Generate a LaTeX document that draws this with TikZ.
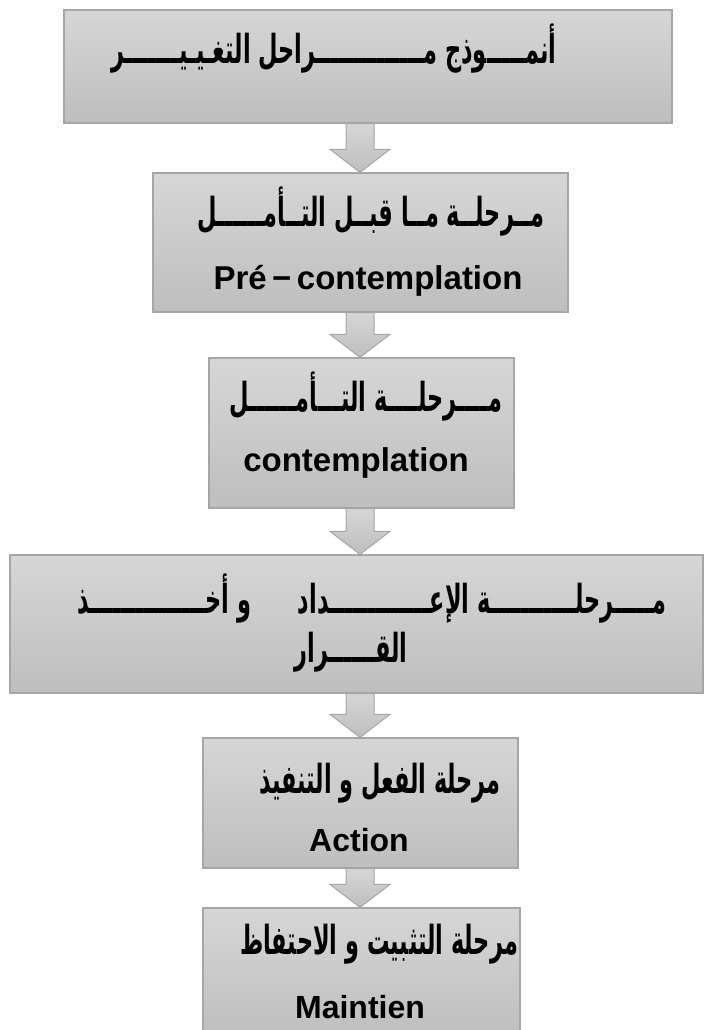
\documentclass[tikz,border=0pt]{standalone}
\usepackage{fontspec}
\setmainfont{Liberation Sans}
\newfontfamily\arabicfont[Script=Arabic]{DejaVu Sans}
\TeXXeTstate=1
\usetikzlibrary{calc}
\definecolor{edgegray}{HTML}{A6A6A6}
\definecolor{toplight}{HTML}{D6D6D6}
\definecolor{botdark}{HTML}{BEBEBE}
\newcommand{\arline}[1]{\scalebox{0.83}[1.48]{\beginR #1\endR}}
\tikzset{
  stagebox/.style={draw=edgegray, line width=1.3pt, top color=toplight, bottom color=botdark, inner sep=0pt},
  artext/.style={font=\arabicfont\bfseries\fontsize{27}{30}\selectfont, anchor=base, inner sep=0pt},
  latext/.style={font=\bfseries\fontsize{33}{36}\selectfont, anchor=base, inner sep=0pt},
  blockarrow/.style={draw=edgegray, line width=1pt, top color=toplight, bottom color=botdark}
}
\newcommand{\stagearrow}[3]{%
  \path[blockarrow] let \p1=(#1.south), \p2=(#2.north), \n1={\y2+23pt} in
    (#3pt-14pt,\y1) -- (#3pt+14pt,\y1) -- (#3pt+14pt,\n1) -- (#3pt+30pt,\n1) --
    (#3pt,\y2) -- (#3pt-30pt,\n1) -- (#3pt-14pt,\n1) -- cycle;}
\begin{document}
\begin{tikzpicture}[x=1pt,y=-1pt]
\useasboundingbox (0,0) rectangle (704,1030);
\fill[white] (0,0) rectangle (704,1030);
% boxes
\node[stagebox, minimum width=608pt, minimum height=113pt] (b1) at (368,66.5) {};
\node[stagebox, minimum width=415pt, minimum height=139pt] (b2) at (360.5,242.5) {};
\node[stagebox, minimum width=305pt, minimum height=150pt] (b3) at (361.5,433) {};
\node[stagebox, minimum width=693pt, minimum height=138pt] (b4) at (356.5,624) {};
\node[stagebox, minimum width=315pt, minimum height=130pt] (b5) at (360.5,803) {};
\node[stagebox, minimum width=317pt, minimum height=130pt] (b6) at (361.5,973) {};
% arrows
\stagearrow{b1}{b2}{360}
\stagearrow{b2}{b3}{360}
\stagearrow{b3}{b4}{360}
\stagearrow{b4}{b5}{360}
\stagearrow{b5}{b6}{360}
% texts
\node[artext] (t1) at (334,64) {\arline{أنمـــــوذج مــــــــــــــراحل التغـيـيـــــــر}};
\node[artext] (t2a) at (371,226) {\arline{مــرحلــة مــا قبــل التــأمــــــل}};
\node[latext] (t2b) at (368,289) {Pré\,−\,contemplation};
\node[artext] (t3a) at (366,411) {\arline{مــــرحلــــة التـــأمــــــل}};
\node[latext] (t3b) at (356,471) {contemplation};
\node[artext] (t4a) at (372,613) {\arline{مـــــرحلـــــــــــة الإعـــــــــــــداد\ \ \ \ \ \ و أخـــــــــــــــذ}};
\node[artext] (t4b) at (351,662) {\arline{القــــــرار}};
\node[artext] (t5a) at (380,793) {\arline{مرحلة الفعل و التنفيذ}};
\node[latext, font=\bfseries\fontsize{32}{36}\selectfont] (t5b) at (359,851) {Action};
\node[artext] (t6a) at (379,954) {\arline{مرحلة التثبيت و الاحتفاظ}};
\node[latext, font=\bfseries\fontsize{32}{36}\selectfont] (t6b) at (360,1018) {Maintien};
\end{tikzpicture}
\end{document}
